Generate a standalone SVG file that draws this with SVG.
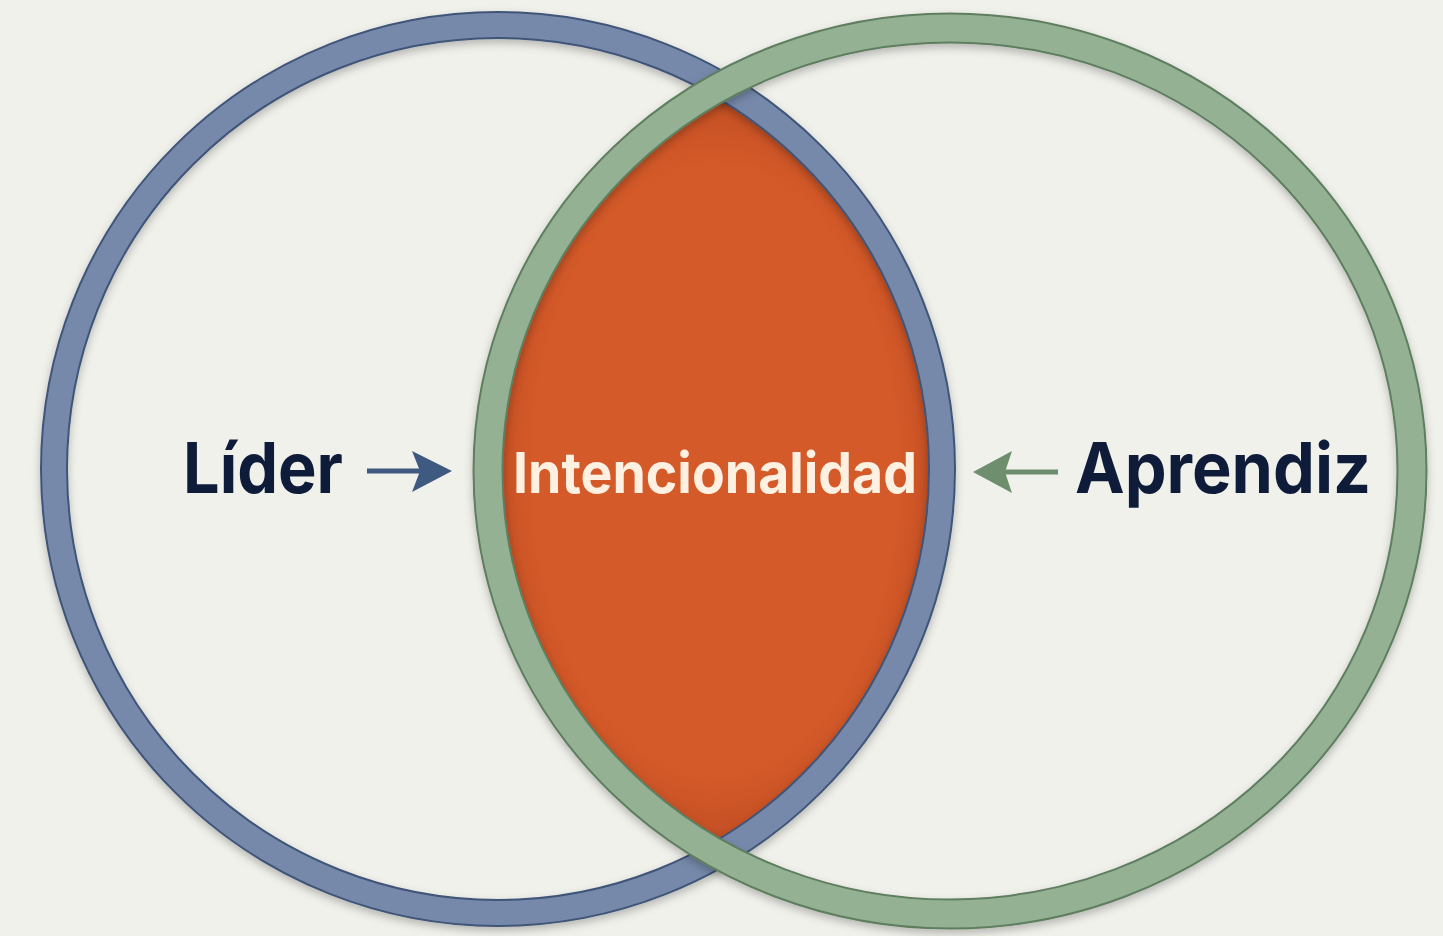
<svg xmlns="http://www.w3.org/2000/svg" width="1443" height="936" viewBox="0 0 1443 936">
  <defs>
    <filter id="shadow" x="-10%" y="-10%" width="120%" height="120%">
      <feDropShadow dx="0" dy="4" stdDeviation="4" flood-color="#000" flood-opacity="0.25"/>
    </filter>
    <radialGradient id="lensGrad" gradientUnits="userSpaceOnUse" cx="715" cy="470" r="380" gradientTransform="translate(715 470) scale(0.6 1) translate(-715 -470)">
      <stop offset="0.8" stop-color="#D55A29"/>
      <stop offset="1" stop-color="#C04D22"/>
    </radialGradient>
    <clipPath id="blueClip">
      <circle cx="498" cy="469" r="444"/>
    </clipPath>
    <style>
      .label { font-family: Inter, "Liberation Sans", sans-serif; font-weight: 700; }
      .dark { fill: #0E1C3A; font-size: 70px; }
      .light { fill: #FFF1E2; font-size: 56px; }
    </style>
  </defs>
  <rect width="1443" height="936" fill="#F1F1EC"/>

  <g id="intersection">
    <ellipse cx="950" cy="471" rx="462" ry="443" fill="url(#lensGrad)" clip-path="url(#blueClip)"/>
    <text class="label light" x="513" y="493" textLength="404" lengthAdjust="spacingAndGlyphs">Intencionalidad</text>
  </g>

  <g id="lider" filter="url(#shadow)">
    <circle cx="498" cy="469" r="444" fill="none" stroke="#3F5478" stroke-width="28"/>
    <circle cx="498" cy="469" r="444" fill="none" stroke="#7689AA" stroke-width="24"/>
  </g>

  <g id="aprendiz" filter="url(#shadow)">
    <ellipse cx="950" cy="471" rx="462" ry="443" fill="none" stroke="#5F7E5F" stroke-width="31"/>
    <ellipse cx="950" cy="471" rx="462" ry="443" fill="none" stroke="#94B293" stroke-width="27"/>
  </g>

  <g id="labels">
    <text class="label dark" x="183" y="493" textLength="160" lengthAdjust="spacingAndGlyphs">Líder</text>
    <text class="label dark" x="1075" y="493" textLength="296" lengthAdjust="spacingAndGlyphs">Aprendiz</text>
  </g>

  <g id="connectors">
    <line x1="367" y1="471" x2="420" y2="471" stroke="#3F5A80" stroke-width="5"/>
    <path d="M452,471 L412,451 L420,471 L412,492 Z" fill="#3F5A80"/>
    <line x1="1058" y1="472" x2="1005" y2="472" stroke="#6F8E6E" stroke-width="5"/>
    <path d="M973,472 L1012,451 L1005,472 L1012,493 Z" fill="#6F8E6E"/>
  </g>
</svg>
